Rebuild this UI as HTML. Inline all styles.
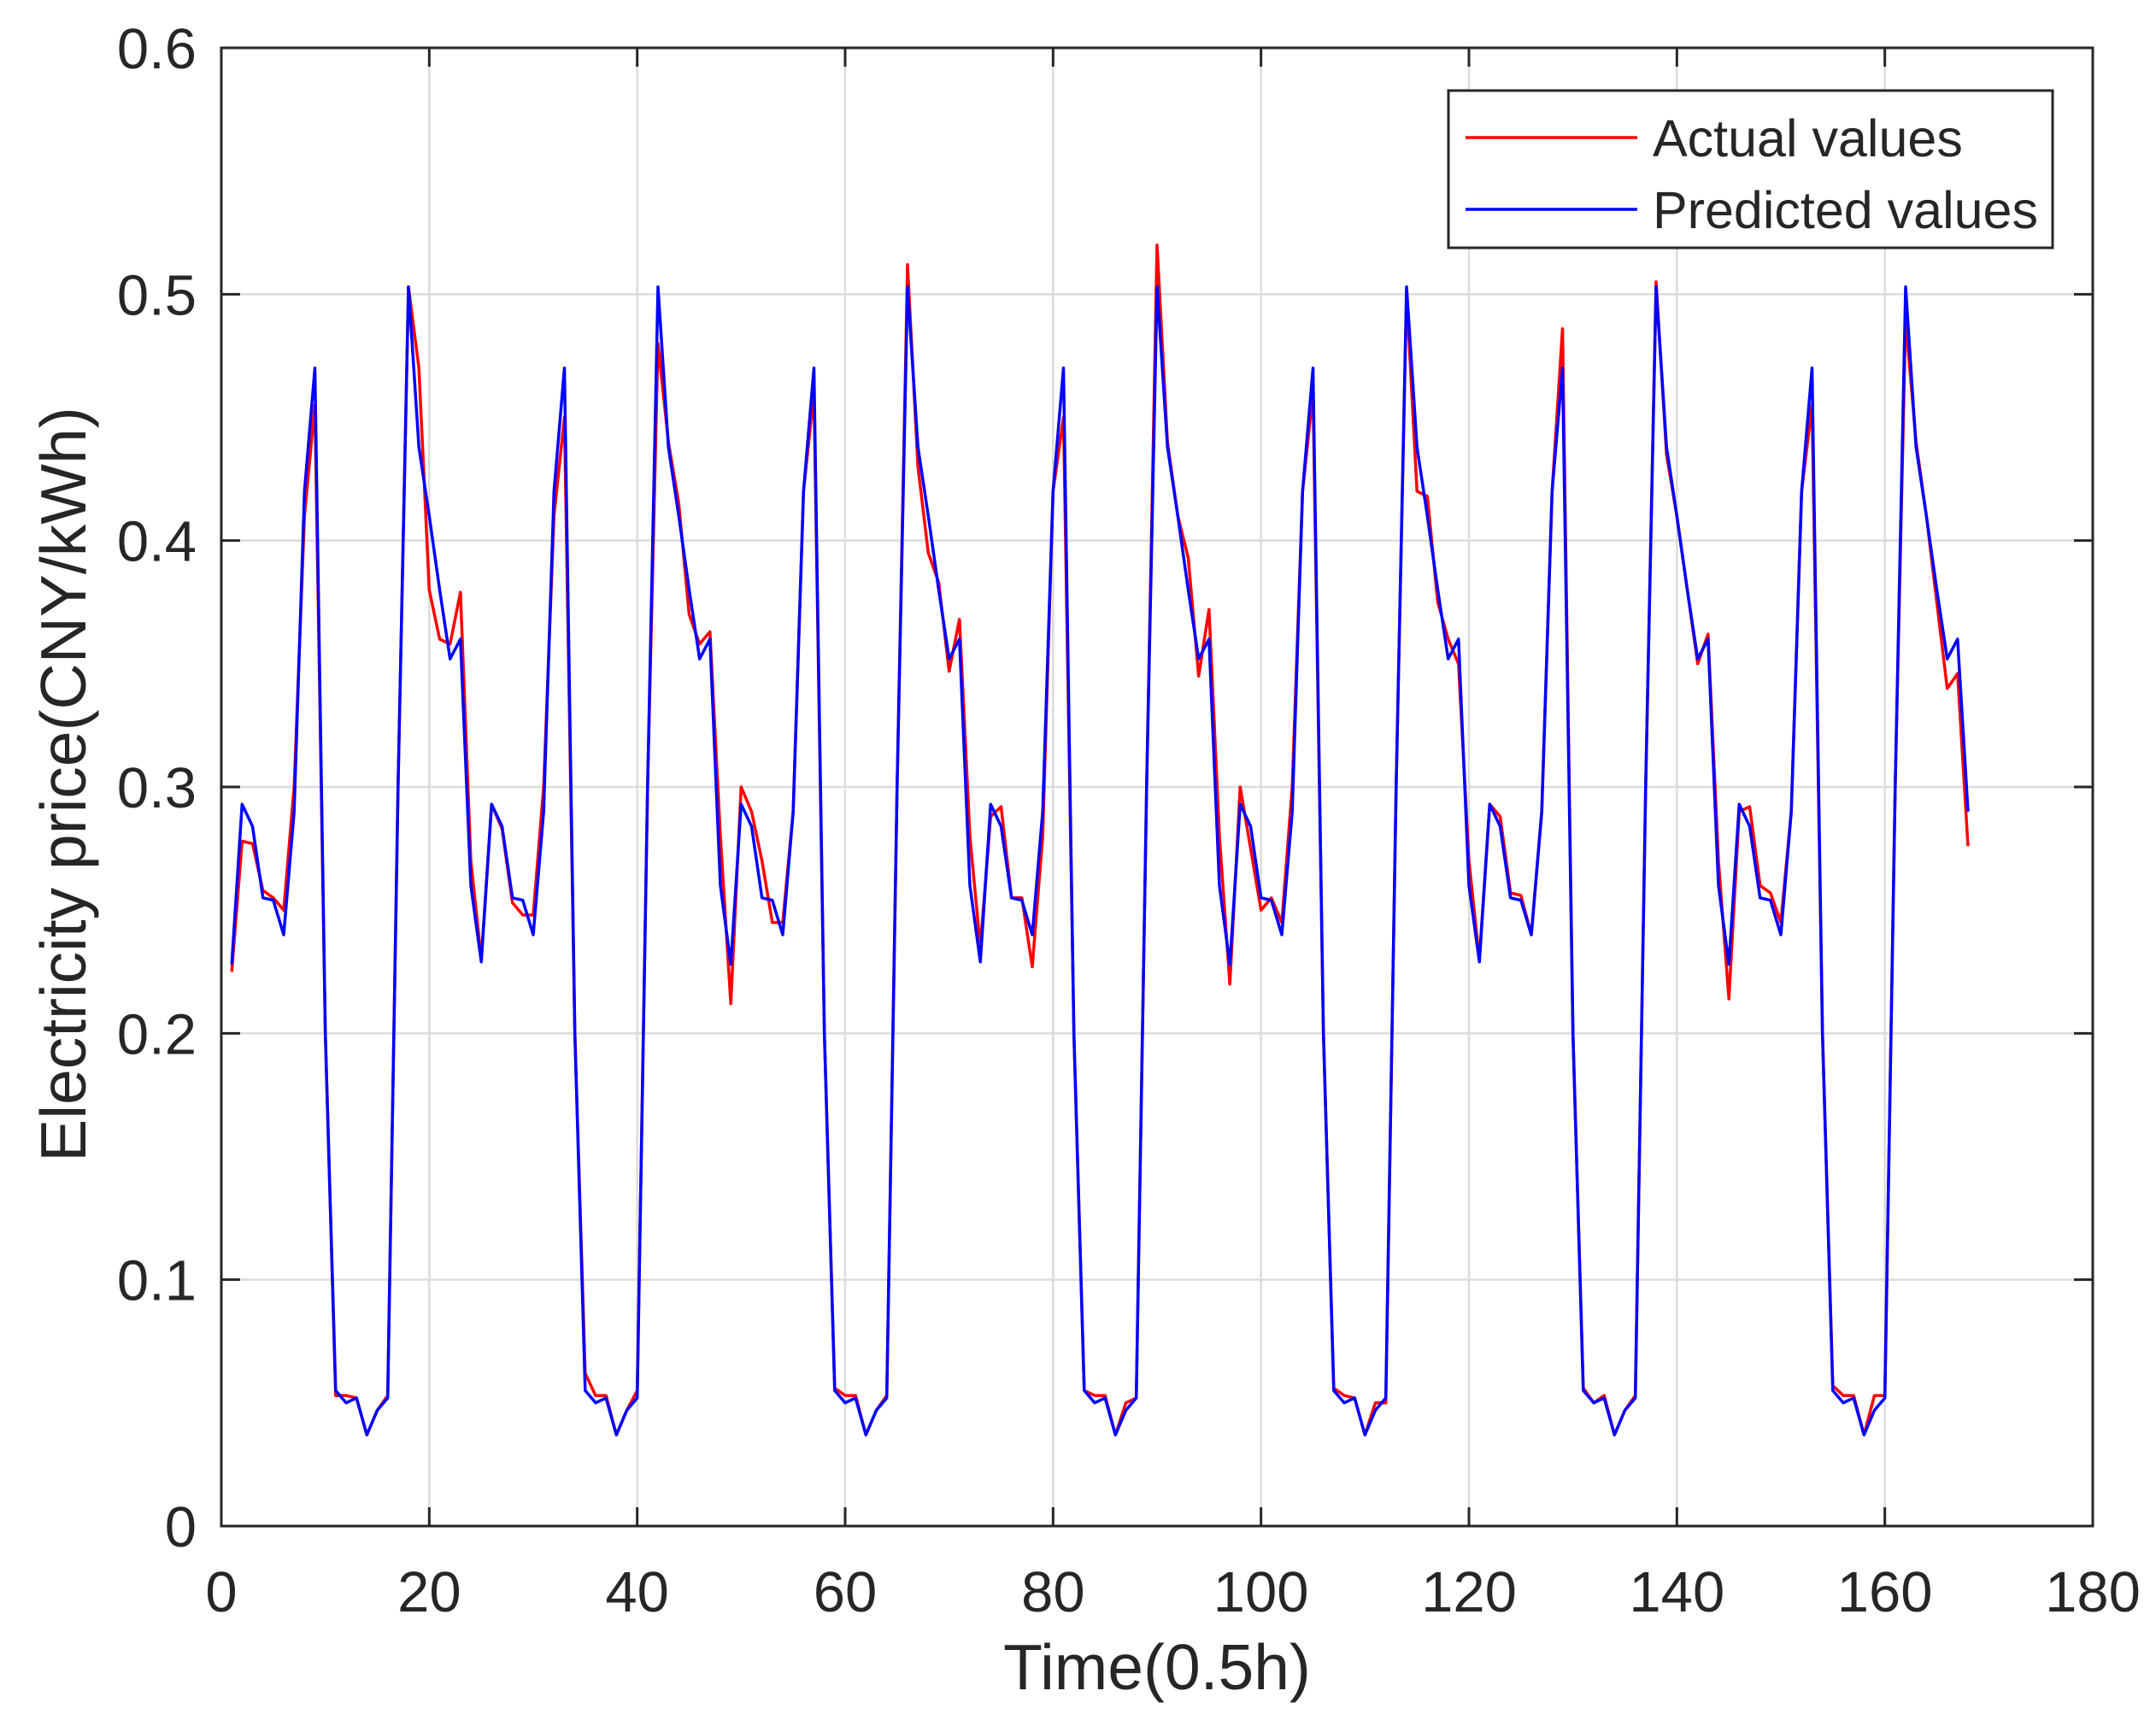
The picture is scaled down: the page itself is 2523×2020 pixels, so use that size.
<!DOCTYPE html>
<html><head><meta charset="utf-8"><style>
body{margin:0;background:#fff}
svg text{font-family:"Liberation Sans",Arial,sans-serif;fill:#262626}
</style></head><body>
<svg id="chart" width="2523" height="2015" xmlns="http://www.w3.org/2000/svg">
<rect width="2523" height="2015" fill="#fff"/>
<g id="grid"></g><g id="series"></g><g id="axes"></g>
</svg>
<script>
const xTicks=[0,20,40,60,80,100,120,140,160,180];
const yTicks=[0,0.1,0.2,0.3,0.4,0.5,0.6];
const yTickLabels=["0","0.1","0.2","0.3","0.4","0.5","0.6"];
const actualValues=[
0.225,0.278,0.277,0.258,0.255,0.250,0.300,0.410,0.455,0.200,0.053,0.053,0.052,0.037,0.047,0.053,0.300,0.503,0.470,0.380,0.360,0.358,0.379,0.270,
0.230,0.293,0.283,0.253,0.248,0.248,0.300,0.410,0.450,0.200,0.062,0.053,0.053,0.037,0.047,0.055,0.300,0.480,0.440,0.415,0.370,0.358,0.363,0.280,
0.212,0.300,0.290,0.270,0.245,0.245,0.290,0.420,0.460,0.200,0.056,0.053,0.053,0.037,0.047,0.053,0.300,0.512,0.430,0.395,0.383,0.347,0.368,0.280,
0.235,0.288,0.292,0.255,0.255,0.227,0.280,0.420,0.450,0.200,0.055,0.053,0.053,0.037,0.050,0.052,0.300,0.520,0.440,0.410,0.393,0.345,0.372,0.280,
0.220,0.300,0.275,0.250,0.255,0.245,0.300,0.420,0.460,0.200,0.056,0.053,0.052,0.037,0.050,0.050,0.300,0.500,0.420,0.418,0.375,0.360,0.350,0.270,
0.230,0.293,0.288,0.257,0.256,0.240,0.290,0.420,0.486,0.200,0.056,0.050,0.053,0.037,0.047,0.053,0.300,0.505,0.435,0.410,0.380,0.350,0.362,0.270,
0.214,0.290,0.292,0.260,0.257,0.245,0.290,0.420,0.455,0.200,0.057,0.053,0.053,0.037,0.053,0.053,0.300,0.490,0.440,0.410,0.375,0.340,0.346,0.276];
const predictedValues=[
0.228,0.293,0.284,0.255,0.254,0.240,0.290,0.420,0.470,0.200,0.055,0.050,0.052,0.037,0.047,0.052,0.300,0.503,0.438,0.410,0.380,0.352,0.360,0.260,
0.229,0.293,0.284,0.255,0.254,0.240,0.290,0.420,0.470,0.200,0.055,0.050,0.052,0.037,0.047,0.052,0.300,0.503,0.438,0.410,0.380,0.352,0.360,0.260,
0.228,0.293,0.284,0.255,0.254,0.240,0.290,0.420,0.470,0.200,0.055,0.050,0.052,0.037,0.047,0.052,0.300,0.503,0.438,0.410,0.380,0.352,0.360,0.260,
0.229,0.293,0.284,0.255,0.254,0.240,0.290,0.420,0.470,0.200,0.055,0.050,0.052,0.037,0.047,0.052,0.300,0.503,0.438,0.410,0.380,0.352,0.360,0.260,
0.228,0.293,0.284,0.255,0.254,0.240,0.290,0.420,0.470,0.200,0.055,0.050,0.052,0.037,0.047,0.052,0.300,0.503,0.438,0.410,0.380,0.352,0.360,0.260,
0.229,0.293,0.284,0.255,0.254,0.240,0.290,0.420,0.470,0.200,0.055,0.050,0.052,0.037,0.047,0.052,0.300,0.503,0.438,0.410,0.380,0.352,0.360,0.260,
0.228,0.293,0.284,0.255,0.254,0.240,0.290,0.420,0.470,0.200,0.055,0.050,0.052,0.037,0.047,0.052,0.300,0.503,0.438,0.410,0.380,0.352,0.360,0.290];

const L=259,R=2449,T=56,B=1786;
const xs=v=>L+(v-0)/(180-0)*(R-L);
const ys=v=>B-(v-0)/(0.6-0)*(B-T);
const NS="http://www.w3.org/2000/svg";
function mk(tag,attrs,parent,text){const e=document.createElementNS(NS,tag);for(const k in attrs)e.setAttribute(k,attrs[k]);if(text!==undefined)e.textContent=text;parent.appendChild(e);return e;}
const grid=document.getElementById('grid'),series=document.getElementById('series'),axes=document.getElementById('axes');

xTicks.forEach(t=>{
 const g=mk('line',{x1:xs(t),x2:xs(t),y1:T,y2:B,stroke:'#dcdcdc','stroke-width':2.5},grid);
 
 
 const tk=mk('line',{x1:xs(t),x2:xs(t),y1:B,y2:B-22,stroke:'#262626','stroke-width':3},axes);
 
 
 const tk2=mk('line',{x1:xs(t),x2:xs(t),y1:T,y2:T+22,stroke:'#262626','stroke-width':3},axes);
 
 
 const lb=mk('text',{x:xs(t),y:1886,'font-size':67,'text-anchor':'middle'},axes,String(t));
 
 
});
yTicks.forEach((t,i)=>{
 const g=mk('line',{x1:L,x2:R,y1:ys(t),y2:ys(t),stroke:'#dcdcdc','stroke-width':2.5},grid);
 
 
 const tk=mk('line',{x1:L,x2:L+22,y1:ys(t),y2:ys(t),stroke:'#262626','stroke-width':3},axes);
 
 
 const tk2=mk('line',{x1:R,x2:R-22,y1:ys(t),y2:ys(t),stroke:'#262626','stroke-width':3},axes);
 
 
 const lb=mk('text',{x:230,y:ys(t)+24,'font-size':67,'text-anchor':'end'},axes,yTickLabels[i]);
 
 
});
const box=mk('rect',{x:L,y:T,width:R-L,height:B-T,fill:'none',stroke:'#262626','stroke-width':3},axes);



function pts(arr){return arr.map((v,i)=>xs(i+1).toFixed(1)+','+ys(v).toFixed(1)).join(' ');}
const a=mk('polyline',{points:pts(actualValues),fill:'none',stroke:'#ff0000','stroke-width':3.5,'stroke-linejoin':'round'},series);


const p=mk('polyline',{points:pts(predictedValues),fill:'none',stroke:'#0000ff','stroke-width':3.5,'stroke-linejoin':'round'},series);



const lg=mk('g',{},axes);


mk('rect',{x:1695,y:106,width:707,height:184,fill:'#fff',stroke:'#262626','stroke-width':3},lg);
const l1=mk('line',{x1:1715,x2:1916,y1:161,y2:161,stroke:'#ff0000','stroke-width':3.5},lg);


const t1=mk('text',{x:1934,y:183,'font-size':61},lg,'Actual values');


const l2=mk('line',{x1:1715,x2:1916,y1:245,y2:245,stroke:'#0000ff','stroke-width':3.5},lg);


const t2=mk('text',{x:1934,y:267,'font-size':61},lg,'Predicted values');



const xt=mk('text',{x:(L+R)/2,y:1977,'font-size':75,'text-anchor':'middle'},axes,'Time(0.5h)');


const yt=mk('text',{x:0,y:0,'font-size':75,'text-anchor':'middle',transform:'translate(100,918) rotate(-90)'},axes,'Electricity price(CNY/kWh)');


</script>
</body></html>
